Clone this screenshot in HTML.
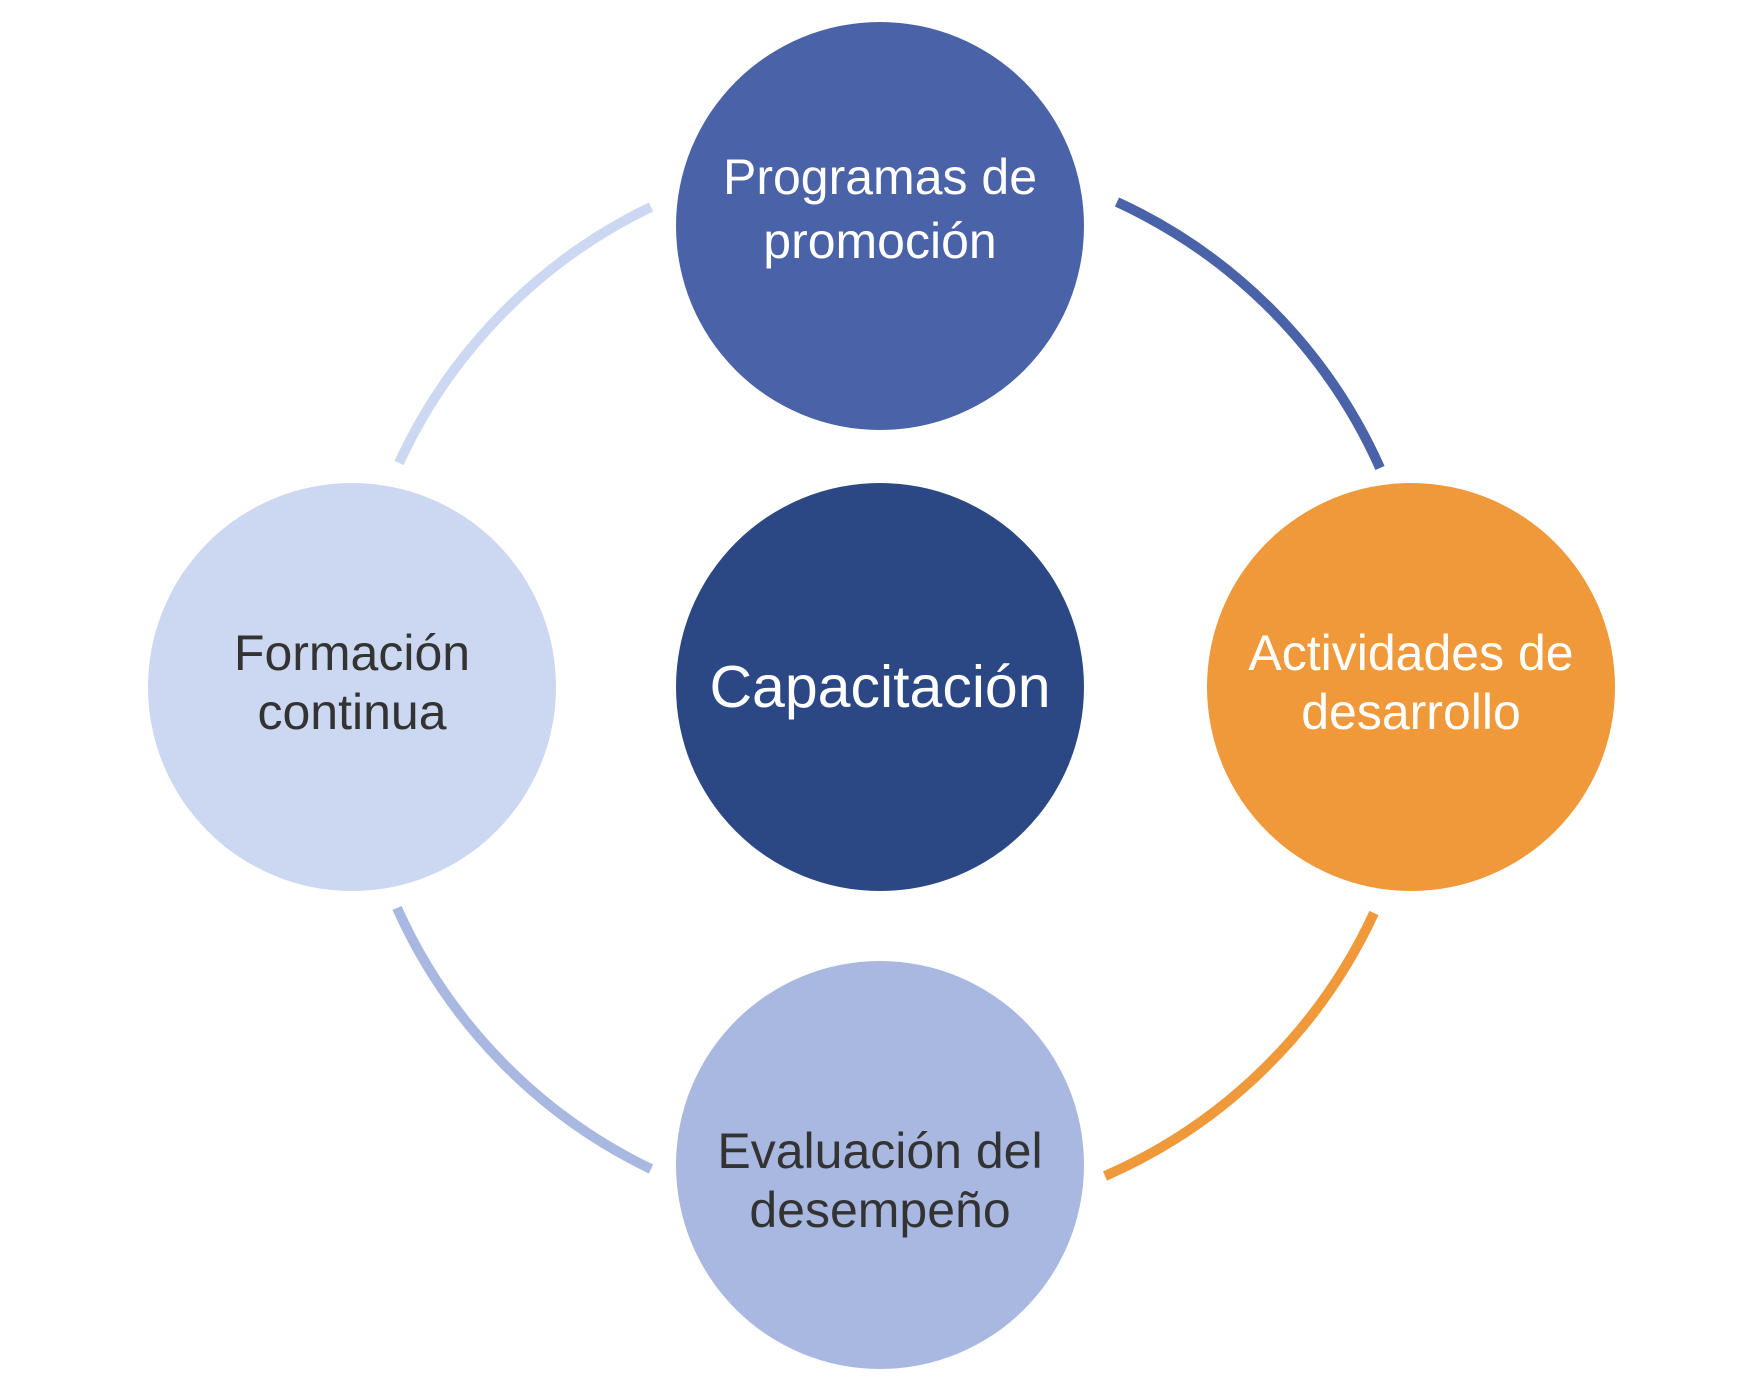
<!DOCTYPE html>
<html><head><meta charset="utf-8"><style>
html,body{margin:0;padding:0;background:#fff;}
svg{display:block;}
text{font-family:"Liberation Sans",sans-serif;text-anchor:middle;}
</style></head><body>
<svg width="1748" height="1396" viewBox="0 0 1748 1396" xmlns="http://www.w3.org/2000/svg">
<g transform="translate(-4,0)">
<g fill="none" stroke-width="10">
<path d="M403 463 A530 530 0 0 1 655 207" stroke="#CCD8F1"/>
<path d="M1121 202 A530 530 0 0 1 1384 468" stroke="#4A62A7"/>
<path d="M1378 913 A530 530 0 0 1 1109 1176" stroke="#F0993A"/>
<path d="M655 1169 A530 530 0 0 1 401 908" stroke="#A8B8E0"/>
</g>
<circle cx="884" cy="226" r="204" fill="#4A62A7"/>
<circle cx="884" cy="687" r="204" fill="#2B4784"/>
<circle cx="356" cy="687" r="204" fill="#CCD8F1"/>
<circle cx="1415" cy="687" r="204" fill="#F0993A"/>
<circle cx="884" cy="1165" r="204" fill="#A8B8E0"/>
<g font-size="50">
<text x="884" y="194" fill="#fff">Programas de</text>
<text x="884" y="258" fill="#fff">promoción</text>
<text x="356" y="670" fill="#333">Formación</text>
<text x="356" y="729" fill="#333">continua</text>
<text x="1415" y="670" fill="#fff">Actividades de</text>
<text x="1415" y="729" fill="#fff">desarrollo</text>
<text x="884" y="1168" fill="#333">Evaluación del</text>
<text x="884" y="1227" fill="#333">desempeño</text>
</g>
<text x="884" y="707" font-size="59" fill="#fff">Capacitación</text>
</g>
</svg>
</body></html>
